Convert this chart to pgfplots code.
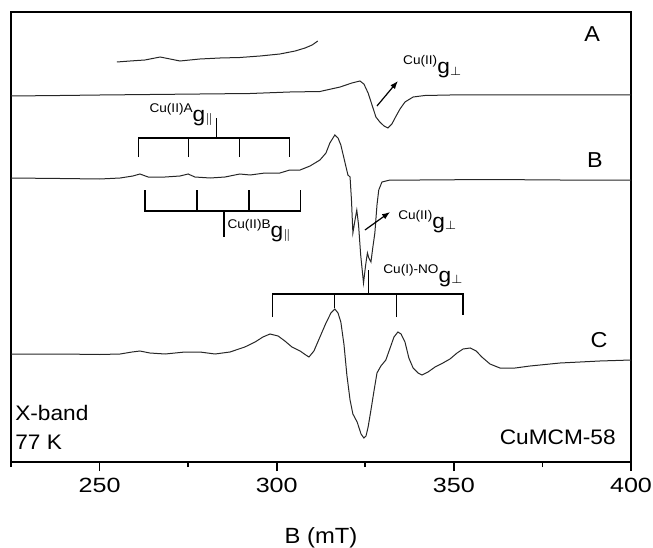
\documentclass[border=0pt]{standalone}
\usepackage{fontspec}
\setmainfont{Liberation Sans}[FakeStretch=1.08]
\newfontfamily\tickfont{Liberation Sans}[FakeStretch=1.22]
\usepackage{pgfplots}
\pgfplotsset{compat=1.18}
\usetikzlibrary{arrows.meta}

% label of the form  ^{sup}g_{sub}
\newcommand{\glab}[2]{{\fontsize{6.3}{7}\selectfont\raisebox{4.5pt}{#1}}{\fontsize{10.5}{11}\selectfont g}{\fontsize{6}{7}\selectfont\raisebox{-0.5pt}{#2}}}

\begin{document}
\begin{tikzpicture}
\begin{axis}[
  width=310pt, height=225pt, scale only axis,
  xmin=225, xmax=400, ymin=0, ymax=450,
  xtick={250,300,350,400},
  minor xtick={225,275,325,375},
  ytick=\empty,
  xtick pos=bottom,
  tick align=outside,
  major tick length=4.5pt,
  minor tick length=2.5pt,
  axis line style={line width=1pt},
  every tick/.style={line width=0.8pt, black},
  /pgf/number format/assume math mode=true,
  ticklabel style={font=\tickfont\fontsize{10.3}{12}\selectfont},
  xlabel={B (mT)},
  xlabel style={font=\fontsize{11}{12}\selectfont, yshift=-10.5pt},
  clip=false,
]
% trace A
\addplot[black!85, line width=0.5pt] coordinates {
(225.0,366) (238.8,366.5) (250.1,367) (264.2,367.5) (278.3,368) (292.5,368.5)
(303.7,370) (312.2,370.5) (317.9,375) (321.2,379) (323.5,381) (324.6,378)
(325.8,369) (326.9,357) (328.0,345) (329.1,340) (330.3,336) (331.4,334)
(332.5,338) (333.7,346) (334.8,353) (336.2,360) (338.5,365) (341.8,366.5)
(348.9,367) (363.0,367) (377.1,367) (400,367)
};
% inset of A, expanded
\addplot[black!85, line width=0.5pt] coordinates {
(254.9,400) (258.6,401) (262.8,402) (267.1,405) (269.9,403) (272.7,401)
(278.3,403) (284.0,404) (289.6,404.5) (295.3,406) (300.9,408) (305.2,411)
(308.0,414) (310.0,417) (311.6,421)
};
% trace B
\addplot[black!85, line width=0.5pt] coordinates {
(225.0,284) (238.8,283.5) (250.1,283) (255.8,284) (259.4,286) (261.4,288)
(263.7,285) (268.5,285) (272.7,286) (275.0,288) (276.9,285) (281.2,284)
(285.4,285) (289.6,288) (292.5,287) (296.7,289) (300.9,289) (303.7,292)
(306.6,292) (309.4,296) (312.2,302) (313.9,309) (315.0,319) (316.4,327)
(317.3,324) (318.1,317) (319.3,299) (320.1,287) (320.7,285) (321.1,262)
(321.5,229) (322.1,242) (322.6,252) (323.1,237) (323.7,207) (324.5,179)
(325.1,197) (325.6,209) (326.0,204) (326.6,200) (327.1,214) (327.7,229)
(328.3,257) (328.8,272) (329.7,280) (332.0,282) (340.4,282) (360,282.5)
(380,282) (400,282)
};
% trace C
\addplot[black!85, line width=0.5pt] coordinates {
(225.0,108) (238.8,108) (250.1,107.5) (255.8,108) (259.2,110) (261.4,111)
(264.2,109) (268.5,108) (274.1,110) (278.3,110) (282.6,108) (286.8,110)
(291.0,115) (293.9,120) (296.1,125) (298.1,128) (300.4,126) (302.3,121)
(304.3,115) (306.6,111) (308.2,107) (309.1,105) (310.5,111) (312.2,125)
(313.9,139) (315.3,149) (316.4,153) (317.3,149) (318.1,140) (319.0,117)
(319.8,87) (320.7,62) (321.5,48) (322.7,40) (323.8,28) (324.6,24)
(325.2,26) (325.8,35) (326.6,52) (327.5,72) (328.3,89) (329.4,96)
(330.8,102) (332.0,114) (333.1,125) (334.2,130) (335.1,128) (336.2,120)
(337.3,104) (338.5,94) (339.9,89) (341.0,87) (342.7,90) (344.7,95)
(346.9,99) (348.9,103) (350.9,109) (352.6,113) (354.6,114) (356.3,111)
(357.9,105) (360.2,98) (363.0,94) (367.3,94) (371.5,96) (380.0,99)
(391.2,101) (400.0,102)
};

% hyperfine brackets
\draw[black, line width=0.6pt]
  (axis cs:261.1,305) -- (axis cs:261.1,324) -- (axis cs:303.5,324) -- (axis cs:303.5,305)
  (axis cs:275.0,305) -- (axis cs:275.0,324)
  (axis cs:289.6,305) -- (axis cs:289.6,324)
  (axis cs:282.9,324) -- (axis cs:282.9,344);
\draw[black, line width=0.6pt]
  (axis cs:262.8,272) -- (axis cs:262.8,251) -- (axis cs:306.6,251) -- (axis cs:306.6,272)
  (axis cs:277.5,272) -- (axis cs:277.5,251)
  (axis cs:292.2,272) -- (axis cs:292.2,251)
  (axis cs:285.1,251) -- (axis cs:285.1,225);
\draw[black, line width=0.6pt]
  (axis cs:298.7,145) -- (axis cs:298.7,168) -- (axis cs:352.6,168) -- (axis cs:352.6,147)
  (axis cs:316.4,154) -- (axis cs:316.4,168)
  (axis cs:333.7,145) -- (axis cs:333.7,168)
  (axis cs:325.8,168) -- (axis cs:325.8,192);

% arrows
\draw[-{Latex[length=4pt,width=3pt]}, line width=0.6pt] (axis cs:328.3,356) -- (axis cs:334.2,381);
\draw[-{Latex[length=4pt,width=3pt]}, line width=0.6pt] (axis cs:324.9,232) -- (axis cs:332.0,250);

% labels
\node[anchor=base west, inner sep=0pt] at (axis cs:335.6,388) {\glab{Cu(II)}{$\perp$}};
\node[anchor=base west, inner sep=0pt] at (axis cs:334.2,234) {\glab{Cu(II)}{$\perp$}};
\node[anchor=base west, inner sep=0pt] at (axis cs:330.0,180) {\glab{Cu(I)-NO}{$\perp$}};
\node[anchor=base west, inner sep=0pt] at (axis cs:264.0,341) {\glab{Cu(II)A}{$\parallel$}};
\node[anchor=base west, inner sep=0pt] at (axis cs:286.0,225) {\glab{Cu(II)B}{$\parallel$}};

\node[font=\fontsize{10.8}{12}\selectfont] at (axis cs:389.0,428) {A};
\node[font=\fontsize{10.8}{12}\selectfont] at (axis cs:389.8,302) {B};
\node[font=\fontsize{10.8}{12}\selectfont] at (axis cs:391.0,122) {C};

\node[anchor=base west, inner sep=0pt, font=\fontsize{10.5}{12}\selectfont] at (axis cs:226.1,42) {X-band};
\node[anchor=base west, inner sep=0pt, font=\fontsize{10.5}{12}\selectfont] at (axis cs:226.1,13) {77 K};
\node[anchor=base east, inner sep=0pt, font=\fontsize{10.5}{12}\selectfont] at (axis cs:395.8,18) {CuMCM-58};
\end{axis}
\pgfresetboundingbox
\path[use as bounding box] ([shift={(-5.5pt,-42.5pt)}]current axis.south west)
  rectangle ([shift={(11pt,6pt)}]current axis.north east);
\end{tikzpicture}
\end{document}
